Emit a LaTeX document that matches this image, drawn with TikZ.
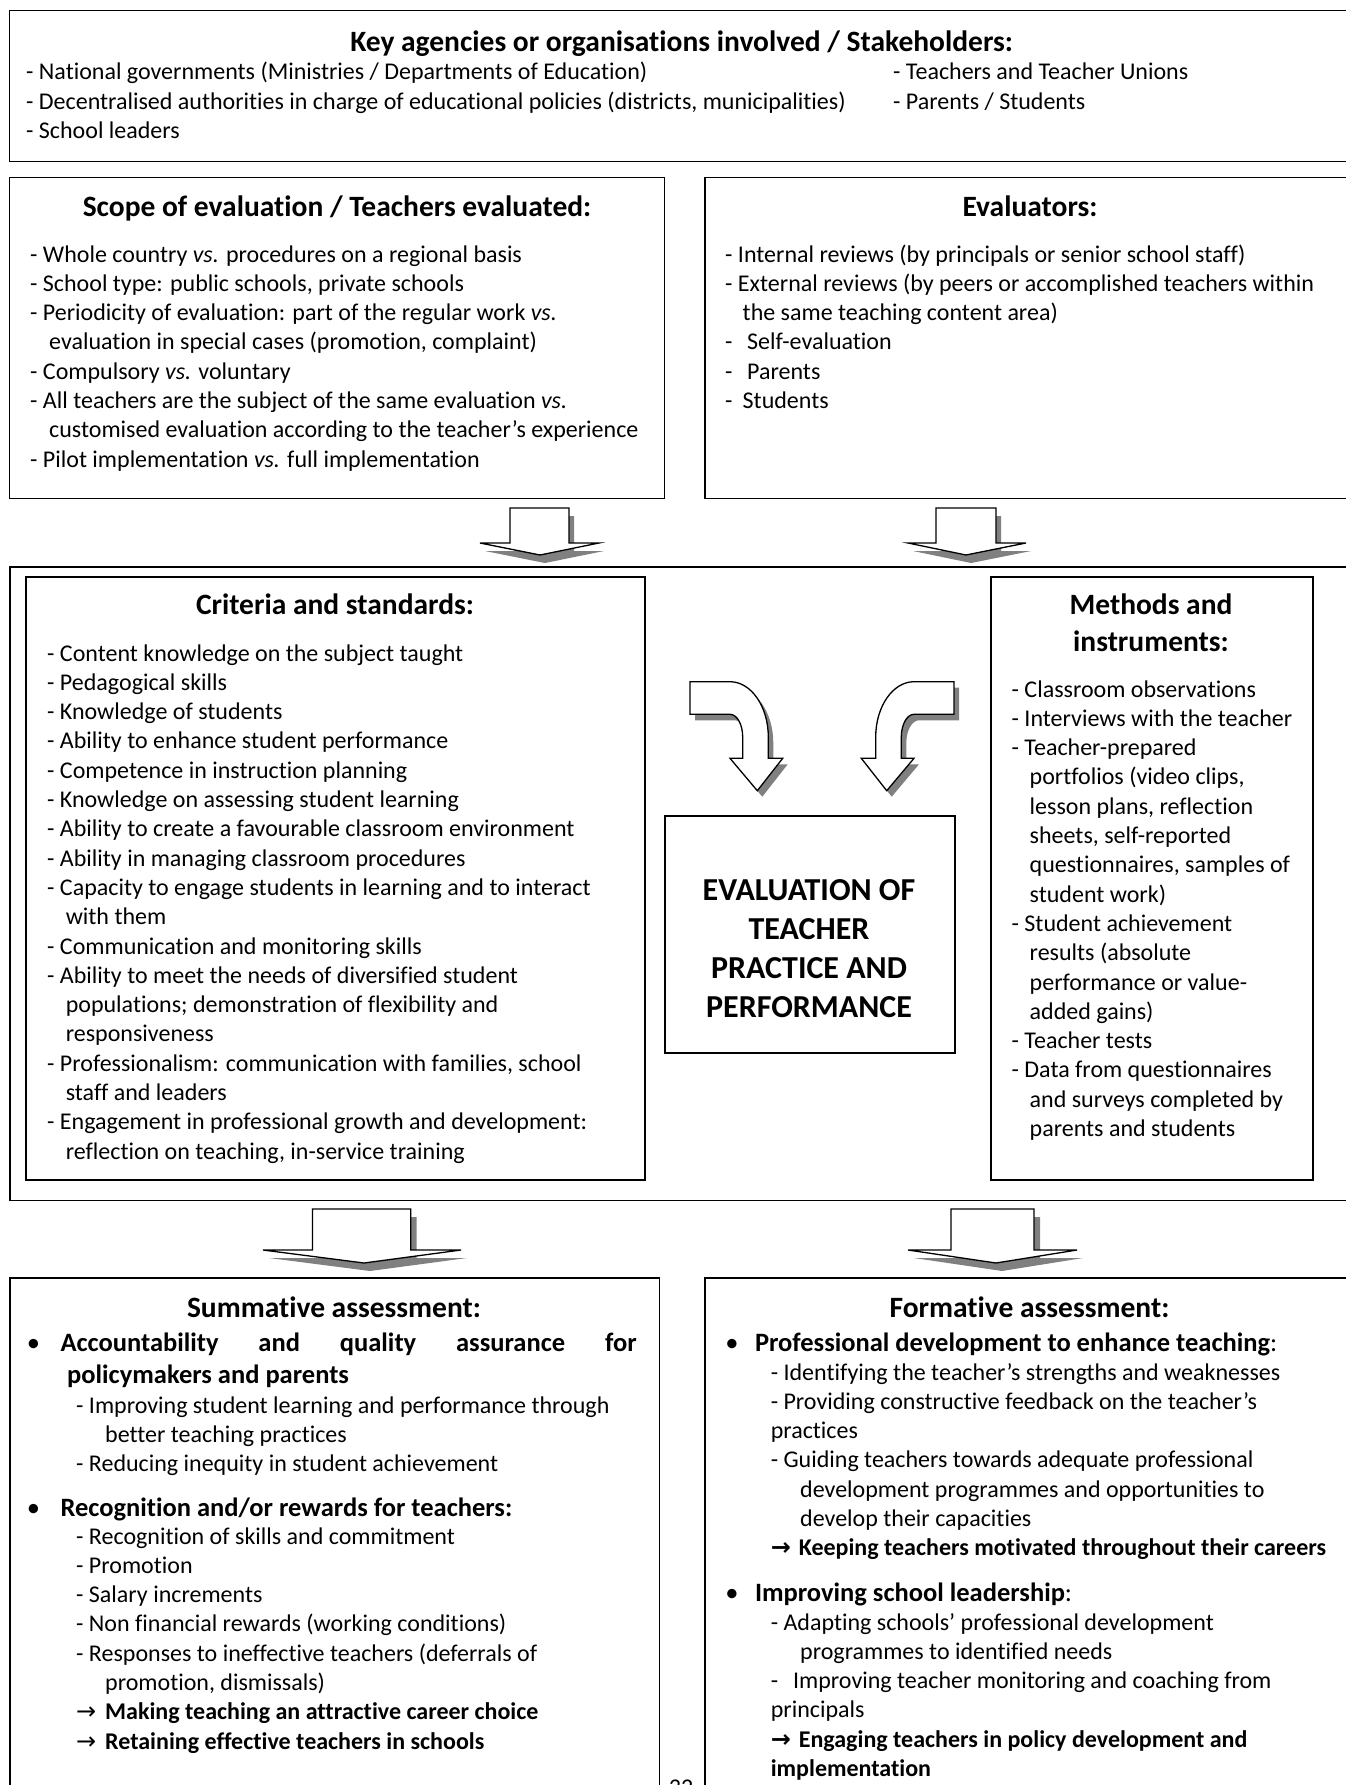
\documentclass[tikz,border=0pt]{standalone}
\usepackage{fontspec}
\setmainfont{Carlito}[Ligatures={NoCommon}]
\newfontfamily\arrowfont{DejaVu Sans}
\definecolor{shadowgray}{HTML}{808080}
\newcommand\DArrow[9]{\path[#1] (#2,#4) -- (#3,#4) -- (#3,#5) -- (#7,#5) -- (#8,#9) -- (#6,#5) -- (#2,#5) -- cycle;}
\newcommand\CurvL[1]{\path[#1] (690,681.7) -- (730,681.7) .. controls (751.1,681.7) and (768.3,706.5) .. (768.3,737) -- (768.3,758.3) -- (782.7,758.3) -- (757.3,790.7) -- (730,758.3) -- (742.7,758.3) -- (742.7,737) .. controls (742.7,724.5) and (737,714.3) .. (730,714.3) -- (690,714.3) -- cycle;}
\newcommand\CurvR[1]{\path[#1] (954,681.7) -- (914,681.7) .. controls (892.9,681.7) and (875.7,706.5) .. (875.7,737) -- (875.7,758.3) -- (861.3,758.3) -- (886.7,790.7) -- (914,758.3) -- (901.3,758.3) -- (901.3,737) .. controls (901.3,724.5) and (907,714.3) .. (914,714.3) -- (954,714.3) -- cycle;}
\newcommand\Ar{\makebox[29pt][l]{\arrowfont →}}
\newcommand\Arb{\makebox[28pt][l]{\arrowfont\bfseries →}}
\begin{document}
\begin{tikzpicture}[x=1pt,y=-1pt,
  box/.style={draw=black, line width=1.5pt, rectangle, inner sep=0pt, anchor=north west},
  ttl/.style={font=\bfseries\fontsize{29.5}{37}\selectfont, anchor=base, inner sep=0pt},
  txt/.style={font=\fontsize{24}{29.3}\selectfont, anchor=base west, inner sep=0pt},
  hd/.style={font=\bfseries\fontsize{26.5}{32}\selectfont, anchor=base west, inner sep=0pt},
  bul/.style={font=\fontsize{26.5}{32}\selectfont, anchor=base, inner sep=0pt},
  shad/.style={fill=shadowgray, draw=none},
  arr/.style={fill=white, draw=black, line width=1.3pt, line join=miter}
]
\useasboundingbox (0,0) rectangle (1346,1785);
\fill[white] (0,0) rectangle (1346,1785);
\clip (0,0) rectangle (1346,1785);

% ---------- boxes ----------
\node[box, minimum width=1352pt, minimum height=150.5pt] (top) at (8.6,10) {};
\node[box, minimum width=655pt, minimum height=321pt] (scope) at (8.6,176.5) {};
\node[box, minimum width=660pt, minimum height=321pt] (evals) at (704,176.5) {};
\node[box, minimum width=1351pt, minimum height=633.5pt] (mid) at (9,566) {};
\node[box, minimum width=618.6pt, minimum height=603pt] (crit) at (25.4,576) {};
\node[box, minimum width=322pt, minimum height=603pt] (meth) at (990,576) {};
\node[box, minimum width=290pt, minimum height=237pt] (evalbox) at (664,815) {};
\node[box, minimum width=649.5pt, minimum height=530pt] (summ) at (9,1277) {};
\node[box, minimum width=660pt, minimum height=530pt] (form) at (704,1277) {};

% ---------- block arrows ----------
\DArrow{shad, shift={(5,8)}}{510}{569}{508}{543}{480}{599}{540}{555}
\DArrow{arr}{510}{569}{508}{543}{480}{599}{540}{555}
\DArrow{shad, shift={(5,8)}}{936}{996}{508}{543}{908}{1026}{966}{555}
\DArrow{arr}{936}{996}{508}{543}{908}{1026}{966}{555}
\DArrow{shad, shift={(6,8)}}{312.5}{410.7}{1209}{1250}{263}{461}{364}{1263}
\DArrow{arr}{312.5}{410.7}{1209}{1250}{263}{461}{364}{1263}
\DArrow{shad, shift={(6,8)}}{951}{1034}{1209}{1250}{908}{1077}{996}{1263}
\DArrow{arr}{951}{1034}{1209}{1250}{908}{1077}{996}{1263}
\CurvL{shad, shift={(5,6)}}
\CurvL{arr}
\CurvR{shad, shift={(5,6)}}
\CurvR{arr}

% ---------- top box ----------
\node[ttl] (topT) at (681.6,52) {Key agencies or organisations involved / Stakeholders:};
\node[txt] (topL) at (26,80) {\begin{tabular}[t]{@{}l@{}}- National governments (Ministries / Departments of Education)\\- Decentralised authorities in charge of educational policies (districts, municipalities)\\- School leaders\end{tabular}};
\node[txt] (topR) at (893,80) {\begin{tabular}[t]{@{}l@{}}- Teachers and Teacher Unions\\- Parents / Students\end{tabular}};

% ---------- scope ----------
\node[ttl] (scopeT) at (337,216) {Scope of evaluation / Teachers evaluated:};
\node[txt] (scopeL) at (30,262) {\begin{tabular}[t]{@{}l@{}}- Whole country \textit{vs.} procedures on a regional basis\\- School type: public schools, private schools\\- Periodicity of evaluation: part of the regular work \textit{vs.}\\\hspace*{19pt}evaluation in special cases (promotion, complaint)\\- Compulsory \textit{vs.} voluntary\\- All teachers are the subject of the same evaluation \textit{vs.}\\\hspace*{19pt}customised evaluation according to the teacher’s experience\\- Pilot implementation \textit{vs.} full implementation\end{tabular}};

% ---------- evaluators ----------
\node[ttl] (evalsT) at (1030,216) {Evaluators:};
\node[txt] (evalsL) at (725,262) {\begin{tabular}[t]{@{}l@{}}- Internal reviews (by principals or senior school staff)\\- External reviews (by peers or accomplished teachers within\\\hspace*{17.5pt}the same teaching content area)\\\makebox[22pt][l]{-}Self-evaluation\\\makebox[22pt][l]{-}Parents\\\makebox[17.5pt][l]{-}Students\end{tabular}};

% ---------- criteria ----------
\node[ttl] (critT) at (335,614) {Criteria and standards:};
\node[txt] (critL) at (47,661) {\begin{tabular}[t]{@{}l@{}}- Content knowledge on the subject taught\\- Pedagogical skills\\- Knowledge of students\\- Ability to enhance student performance\\- Competence in instruction planning\\- Knowledge on assessing student learning\\- Ability to create a favourable classroom environment\\- Ability in managing classroom procedures\\- Capacity to engage students in learning and to interact\\\hspace*{18.6pt}with them\\- Communication and monitoring skills\\- Ability to meet the needs of diversified student\\\hspace*{18.6pt}populations; demonstration of flexibility and\\\hspace*{18.6pt}responsiveness\\- Professionalism: communication with families, school\\\hspace*{18.6pt}staff and leaders\\- Engagement in professional growth and development:\\\hspace*{18.6pt}reflection on teaching, in-service training\end{tabular}};

% ---------- methods ----------
\node[ttl] (methT) at (1151,614) {\begin{tabular}[t]{@{}c@{}}Methods and\\instruments:\end{tabular}};
\node[txt] (methL) at (1011.5,697) {\begin{tabular}[t]{@{}l@{}}- Classroom observations\\- Interviews with the teacher\\- Teacher-prepared\\\hspace*{18pt}portfolios (video clips,\\\hspace*{18pt}lesson plans, reflection\\\hspace*{18pt}sheets, self-reported\\\hspace*{18pt}questionnaires, samples of\\\hspace*{18pt}student work)\\- Student achievement\\\hspace*{18pt}results (absolute\\\hspace*{18pt}performance or value-\\\hspace*{18pt}added gains)\\- Teacher tests\\- Data from questionnaires\\\hspace*{18pt}and surveys completed by\\\hspace*{18pt}parents and students\end{tabular}};

% ---------- central ----------
\node[anchor=base, inner sep=0pt, font=\bfseries\fontsize{32}{39}\selectfont] (evalT) at (809,900) {\begin{tabular}[t]{@{}c@{}}EVALUATION OF\\TEACHER\\PRACTICE AND\\PERFORMANCE\end{tabular}};

% ---------- summative ----------
\node[ttl] (summT) at (334,1317) {Summative assessment:};
\node[bul] (sb1) at (33.5,1351) {•};
\node[hd] (sh1) at (60.3,1351) {\hbox to 576pt{Accountability\hfill and\hfill quality\hfill assurance\hfill for}};
\node[hd] (sh1b) at (67,1383) {policymakers and parents};
\node[txt] (sl1) at (76,1413) {\begin{tabular}[t]{@{}l@{}}- Improving student learning and performance through\\\hspace*{29pt}better teaching practices\\- Reducing inequity in student achievement\end{tabular}};
\node[bul] (sb2) at (33.5,1516) {•};
\node[hd] (sh2) at (60.3,1516) {Recognition and/or rewards for teachers:};
\node[txt] (sl2) at (76,1544) {\begin{tabular}[t]{@{}l@{}}- Recognition of skills and commitment\\- Promotion\\- Salary increments\\- Non financial rewards (working conditions)\\- Responses to ineffective teachers (deferrals of\\\hspace*{29pt}promotion, dismissals)\\\Ar\textbf{Making teaching an attractive career choice}\\\Ar\textbf{Retaining effective teachers in schools}\end{tabular}};

% ---------- formative ----------
\node[ttl] (formT) at (1029.5,1317) {Formative assessment:};
\node[bul] (fb1) at (732,1351) {•};
\node[hd] (fh1) at (754.8,1351) {Professional development to enhance teaching{\mdseries :}};
\node[txt] (fl1) at (770.6,1380) {\begin{tabular}[t]{@{}l@{}}- Identifying the teacher’s strengths and weaknesses\\- Providing constructive feedback on the teacher’s\\practices\\- Guiding teachers towards adequate professional\\\hspace*{29.4pt}development programmes and opportunities to\\\hspace*{29.4pt}develop their capacities\\\Arb\textbf{Keeping teachers motivated throughout their careers}\end{tabular}};
\node[bul] (fb2) at (732,1601) {•};
\node[hd] (fh2) at (754.8,1601) {Improving school leadership{\mdseries :}};
\node[txt] (fl2) at (770.6,1630) {\begin{tabular}[t]{@{}l@{}}- Adapting schools’ professional development\\\hspace*{29.4pt}programmes to identified needs\\-\hspace{15pt}Improving teacher monitoring and coaching from\\principals\\\Arb\textbf{Engaging teachers in policy development and}\\\textbf{implementation}\end{tabular}};

% ---------- page number (cut by the lower edge, as in the reference) ----------
\node[txt, anchor=base] (pagenum) at (681,1795) {32};
\end{tikzpicture}
\end{document}
